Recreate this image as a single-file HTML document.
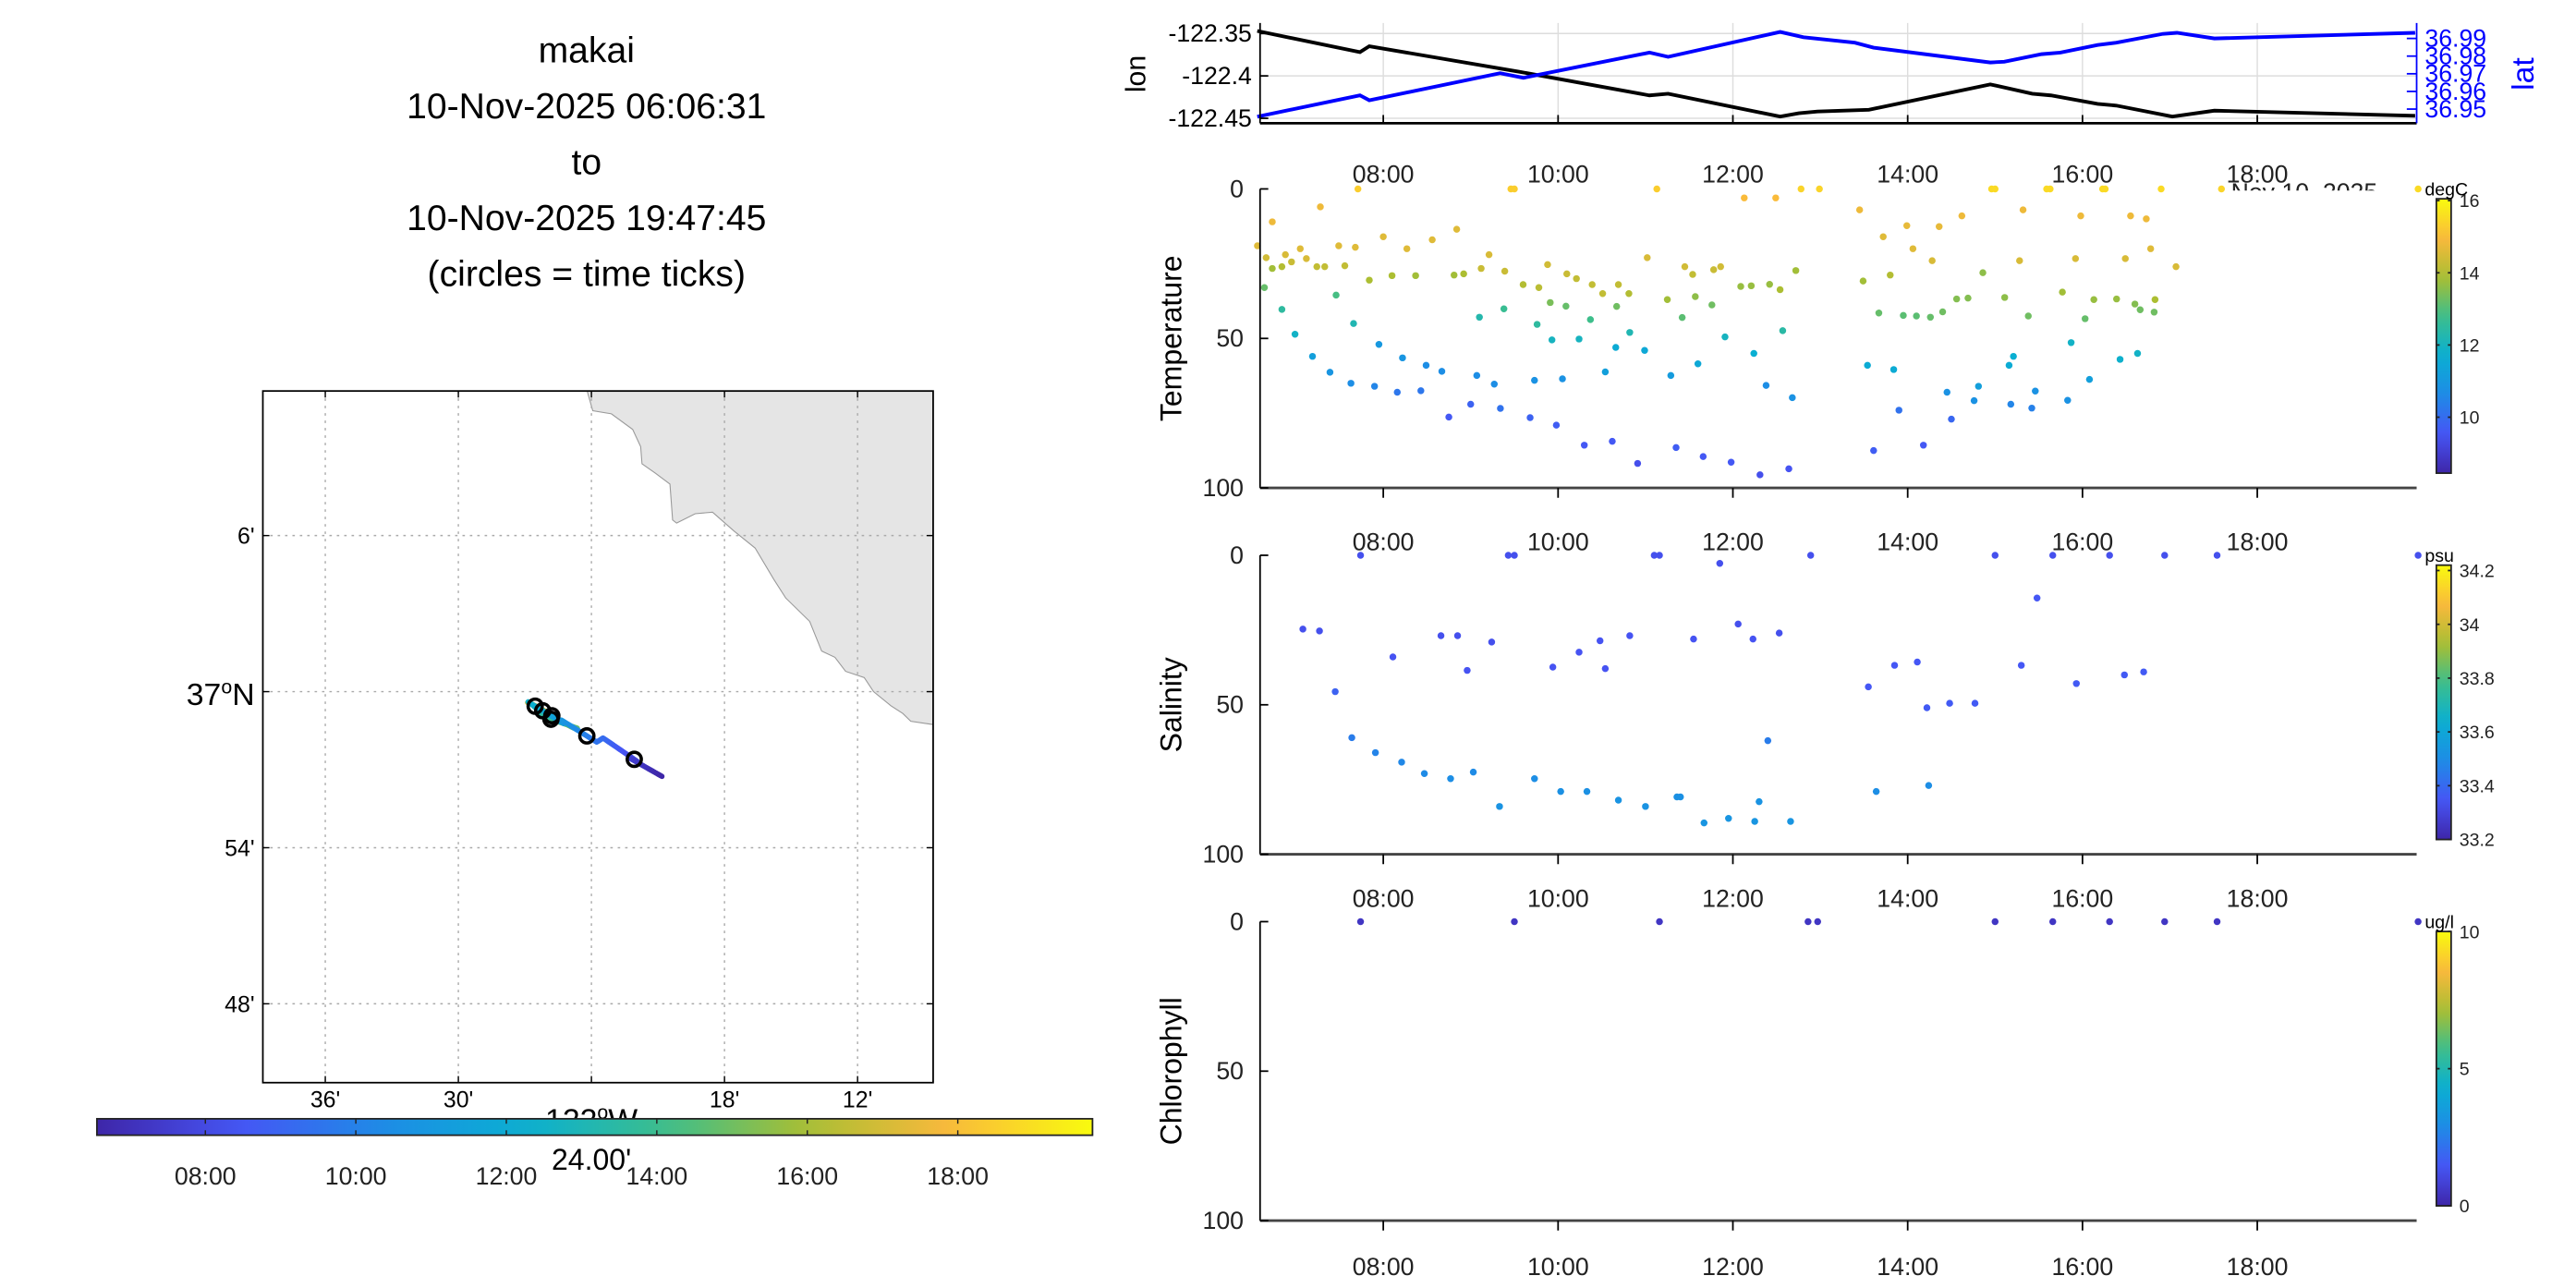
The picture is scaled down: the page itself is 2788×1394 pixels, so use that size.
<!DOCTYPE html>
<html><head><meta charset="utf-8"><style>
html,body{margin:0;padding:0;background:#fff;}
svg{display:block;font-family:"Liberation Sans",sans-serif;}
</style></head><body>
<svg id="fig" xmlns="http://www.w3.org/2000/svg" width="2788" height="1394" viewBox="0 0 1568 784">
<defs id="defs"></defs>
<rect x="0" y="0" width="1568" height="784" fill="#fff"/>
<g font-size="22" text-anchor="middle" fill="#000">
<text x="357" y="38">makai</text>
<text x="357" y="72">10-Nov-2025 06:06:31</text>
<text x="357" y="106">to</text>
<text x="357" y="140">10-Nov-2025 19:47:45</text>
<text x="357" y="174">(circles = time ticks)</text>
</g>
<g id="map"></g>
<g id="top"></g>
<g id="temp"></g>
<g id="sal"></g>
<g id="chl"></g>
</svg>
<script>
// ---- data ----
const lonTimes=[6.558,7.733,7.840,9.549,11.045,11.259,12.541,12.754,12.968,13.556,14.945,15.425,15.639,16.173,16.387,17.028,17.509,19.806];
const lonValues=[-122.347,-122.372,-122.365,-122.395,-122.423,-122.421,-122.448,-122.444,-122.442,-122.440,-122.410,-122.421,-122.423,-122.433,-122.435,-122.448,-122.441,-122.447];
const latTimes=[6.558,7.733,7.840,9.336,9.603,11.045,11.259,12.541,12.808,13.396,13.609,14.945,15.105,15.532,15.746,16.173,16.387,16.921,17.081,17.509,19.806];
const latValues=[36.9457,36.9578,36.9550,36.9703,36.9677,36.9820,36.9796,36.9937,36.9907,36.9876,36.9848,36.9764,36.9768,36.9811,36.9820,36.9863,36.9876,36.9926,36.9932,36.9900,36.9932];
const timeTicks=[8,10,12,14,16,18];
const timeTickLabels=["08:00","10:00","12:00","14:00","16:00","18:00"];
const lonTicks=[-122.35,-122.4,-122.45];
const lonTickLabels=["-122.35","-122.4","-122.45"];
const latTicks=[36.99,36.98,36.97,36.96,36.95];
const latTickLabels=["36.99","36.98","36.97","36.96","36.95"];
const depthTicks=[0,50,100];
const tempTimes=[7.71,9.46,9.50,11.13,12.78,12.99,14.96,15.0,15.59,15.63,16.23,16.26,16.90,17.59,19.84,12.13,12.49,7.28,6.73,13.45,15.32,14.62,15.98,16.55,16.73,13.99,14.36,8.84,8.0,13.72,8.56,6.56,7.49,7.68,7.05,8.27,14.06,16.78,9.21,6.88,6.66,7.12,11.02,15.28,15.92,16.49,14.28,6.95,9.88,6.84,6.73,7.24,7.33,7.56,9.12,11.45,11.86,11.78,17.07,9.39,12.72,10.10,11.54,13.80,8.92,8.81,8.37,8.10,10.21,7.84,13.49,14.86,10.39,10.69,9.60,9.78,12.09,12.21,12.42,12.54,6.64,10.51,10.81,15.77,7.46,11.25,11.57,14.56,14.69,15.11,16.13,16.39,16.83,9.91,10.09,10.67,11.76,16.60,6.84,9.38,16.66,16.82,13.67,13.95,14.10,14.26,14.40,15.38,16.03,9.10,10.37,11.42,7.66,9.76,12.57,10.82,6.99,11.91,9.93,10.24,15.87,7.95,10.66,10.99,12.24,15.21,16.63,7.19,8.22,16.43,11.60,13.54,15.16,8.49,13.84,7.39,8.67,10.54,9.07,11.29,16.08,9.73,10.05,7.63,9.27,12.38,7.90,14.81,8.16,8.43,14.45,15.46,12.68,14.76,15.83,9.00,15.18,15.42,9.34,13.90,8.75,9.68,14.50,9.98,10.62,14.18,10.30,11.35,13.61,11.66,11.98,10.91,12.64,12.31];
const tempDepths=[0,0,0,0,0,0,0,0,0,0,0,0,0,0,0,3,3,6,11,7,7,9,9,9,10,12.3,12.6,13.5,16,16,17,19,19,19.5,20,20,20,20,22,22,23,23.3,23,24,23.3,23.3,24,24.4,25.3,26,26.6,26,26,25.7,26.6,26,26,27,26,27.5,27.3,28.4,28.6,28.8,28.4,28.8,29,29,30,30.5,30.8,28,32,32,32,33,32.6,32.4,31.9,33.7,33,35,35,34.5,35.5,37,36,36.8,36.5,36.3,37,36.8,37,38,39.2,39.3,38.8,38.5,40.3,40.1,40.4,41.2,41.5,42.3,42.5,42.9,41.1,42.5,43.4,42.9,43.7,43,45,45.3,47.4,48,48.6,49.5,50.5,50.2,51.4,52,53,54,55,56,55,56,56.5,57,58.5,59,59,59,60.4,61.3,61,61.2,62.4,62.4,63.7,64,63.5,65,65.3,65.7,66,66,68,67.5,68,67.6,69.8,70.8,70.7,72,72,73.3,73.4,74,76.3,76.5,77,79,84.4,85.7,85.7,86.5,87.5,89.5,91.4,91.8,93.6,95.6];
const tempValues=[15.3,15.3,15.3,15.3,15.4,15.4,15.5,15.5,15.5,15.5,15.5,15.5,15.5,15.4,15.5,15.0,15.0,14.8,14.8,14.8,14.8,14.8,14.8,14.8,14.8,14.7,14.7,14.6,14.6,14.6,14.6,14.6,14.6,14.6,14.6,14.6,14.6,14.6,14.5,14.5,14.4,14.5,14.5,14.5,14.5,14.5,14.5,14.3,14.4,14.0,13.8,14.2,14.2,14.2,14.3,14.4,14.4,14.3,14.5,14.3,13.8,14.3,14.2,14.0,13.9,13.8,13.8,13.9,14.2,13.9,13.8,13.6,14.2,14.2,14.0,14.1,13.7,13.7,13.7,13.9,13.2,14.2,14.0,13.8,12.9,13.8,13.6,13.5,13.5,13.6,13.7,13.7,13.9,13.4,13.2,13.3,13.3,13.5,12.5,12.7,13.3,13.3,13.2,13.1,13.1,13.2,13.3,13.3,13.2,12.3,12.8,13.1,12.2,12.5,12.4,12.2,11.9,12.0,12.0,12.0,11.9,11.0,11.6,11.5,11.7,11.7,11.9,11.2,10.9,11.8,11.5,11.6,11.6,10.7,11.6,10.9,10.7,11.2,10.7,11.1,11.2,10.8,10.8,10.7,10.7,10.7,10.5,11.2,10.2,10.2,10.8,10.8,10.8,10.8,10.8,9.8,10.5,10.4,10.1,10.1,9.6,9.8,9.9,9.7,9.6,9.6,9.6,9.7,9.7,9.6,9.6,9.4,9.5,9.4];
const salTimes=[7.74,9.43,9.50,11.10,11.16,12.89,15.0,15.66,16.31,16.94,17.54,19.84,11.85,15.48,7.08,7.27,12.06,12.53,8.85,8.66,9.24,10.48,8.11,8.96,9.94,10.24,10.54,10.82,11.55,12.23,13.55,13.85,14.11,14.22,14.48,14.77,15.30,15.93,16.48,16.70,7.45,7.64,7.91,8.21,8.47,8.77,9.03,9.33,9.73,10.03,10.33,10.69,11.0,11.36,11.40,11.67,11.95,12.25,12.30,12.40,12.66,13.64,14.24];
const salDepths=[0,0,0,0,0,0,0,0,0,0,0,0,2.7,14.3,24.7,25.3,23,26,26.9,26.9,29,28.6,34,38.5,37.4,32.4,37.9,26.9,28,28,44,36.8,35.7,51,49.5,49.5,36.8,42.9,40,39,45.6,61,66,69.2,73,74.7,72.5,84,74.7,79,79,81.9,84,80.8,80.8,89.5,88,89,82.4,62,89,79,77];
const salValues=[33.33,33.33,33.33,33.33,33.33,33.33,33.33,33.33,33.33,33.33,33.33,33.33,33.33,33.35,33.33,33.33,33.33,33.33,33.33,33.33,33.33,33.34,33.34,33.34,33.34,33.34,33.34,33.34,33.34,33.34,33.35,33.35,33.35,33.36,33.36,33.36,33.35,33.36,33.36,33.36,33.38,33.45,33.47,33.48,33.49,33.5,33.49,33.52,33.5,33.51,33.51,33.52,33.52,33.51,33.51,33.53,33.53,33.53,33.52,33.45,33.53,33.5,33.5];
const chlTimes=[7.74,9.50,11.16,12.86,12.97,15.0,15.66,16.31,16.94,17.54,19.84];
const chlDepths=[0,0,0,0,0,0,0,0,0,0,0];
const chlValues=[0.5,0.5,0.5,0.5,0.5,0.5,0.5,0.5,0.5,0.5,0.5];
const mapLonTicks=[-122.6,-122.5,-122.4,-122.3,-122.2];
const mapLonLabels=["36'","30'","24.00'","18'","12'"];
const mapLatTicks=[37.1,37.0,36.9,36.8];
const mapLatLabels=["6'","37","54'","48'"];
const coastLon=[-122.403,-122.399,-122.385,-122.369,-122.363,-122.362,-122.352,-122.341,-122.339,-122.336,-122.322,-122.309,-122.293,-122.277,-122.263,-122.254,-122.236,-122.227,-122.217,-122.209,-122.195,-122.188,-122.175,-122.166,-122.160];
const coastLat=[37.192,37.180,37.178,37.168,37.157,37.146,37.140,37.133,37.110,37.108,37.114,37.115,37.103,37.092,37.072,37.060,37.045,37.026,37.022,37.013,37.009,37.0,36.991,36.986,36.981];

// ---- helpers ----
const NS="http://www.w3.org/2000/svg";
function mk(parent,tag,attrs,text){const e=document.createElementNS(NS,tag);for(const k in attrs)e.setAttribute(k,attrs[k]);if(text!==undefined)e.textContent=text;parent.appendChild(e);return e;}
const cmapStops=[[0,62,38,168],[0.143,70,85,245],[0.286,30,140,230],[0.429,10,175,210],[0.571,60,190,140],[0.714,170,190,50],[0.857,250,185,60],[1,249,251,14]];
function parula(t){t=Math.max(0,Math.min(1,t));for(let i=1;i<cmapStops.length;i++){if(t<=cmapStops[i][0]){const a=cmapStops[i-1],b=cmapStops[i];const f=(t-a[0])/(b[0]-a[0]);return `rgb(${Math.round(a[1]+f*(b[1]-a[1]))},${Math.round(a[2]+f*(b[2]-a[2]))},${Math.round(a[3]+f*(b[3]-a[3]))})`;}}return 'rgb(249,251,14)';}
const defsEl=document.getElementById('defs');
function gradDef(id,vertical){const g=mk(defsEl,'linearGradient',vertical?{id:id,x1:0,y1:1,x2:0,y2:0}:{id:id,x1:0,y1:0,x2:1,y2:0});for(let i=0;i<=20;i++)mk(g,'stop',{offset:i/20,'stop-color':parula(i/20)});}
gradDef('gh',false);gradDef('gv',true);

const XL=767,XR=1471;
const xT=h=>842+(h-8)*53.2;

// ---- map ----
const mapG=document.getElementById('map');
const mx=lon=>360+(lon+122.4)*810;
const my=lat=>421-(lat-37)*950;
const MX0=160,MX1=568,MY0=238,MY1=659;
mk(mapG,'rect',{x:MX0,y:MY0,width:MX1-MX0,height:MY1-MY0,fill:'#fff'});
let pts=[[MX1,MY0],[mx(coastLon[0]),MY0]];
for(let i=0;i<coastLon.length;i++)pts.push([mx(coastLon[i]),my(coastLat[i])]);
pts.push([MX1,my(coastLat[coastLat.length-1])+2]);
const land=mk(mapG,'polygon',{points:pts.map(p=>p.join(',')).join(' '),fill:'#e5e5e5',stroke:'#999','stroke-width':0.6});


for(let i=0;i<mapLonTicks.length;i++){
 const x=mx(mapLonTicks[i]);
 const gl=mk(mapG,'line',{x1:x,y1:MY0,x2:x,y2:MY1,stroke:'#aaa','stroke-width':0.8,'stroke-dasharray':'1.5,3'});
 
 
 mk(mapG,'line',{x1:x,y1:MY1,x2:x,y2:MY1-4,stroke:'#000','stroke-width':0.8});
 mk(mapG,'line',{x1:x,y1:MY0,x2:x,y2:MY0+4,stroke:'#000','stroke-width':0.8});
 if(i!==2){const t=mk(mapG,'text',{x:x,y:674,'font-size':14,'text-anchor':'middle'},mapLonLabels[i]);
 
 }
}
for(let i=0;i<mapLatTicks.length;i++){
 const y=my(mapLatTicks[i]);
 const gl=mk(mapG,'line',{x1:MX0,y1:y,x2:MX1,y2:y,stroke:'#aaa','stroke-width':0.8,'stroke-dasharray':'1.5,3'});
 
 
 mk(mapG,'line',{x1:MX0,y1:y,x2:MX0+4,y2:y,stroke:'#000','stroke-width':0.8});
 mk(mapG,'line',{x1:MX1,y1:y,x2:MX1-4,y2:y,stroke:'#000','stroke-width':0.8});
 let t;
 if(i===1){t=mk(mapG,'text',{x:155,y:y+8,'font-size':19,'text-anchor':'end'});
  mk(t,'tspan',{},mapLatLabels[i]);mk(t,'tspan',{dy:-7,'font-size':12},'o');mk(t,'tspan',{dy:7},'N');}
 else t=mk(mapG,'text',{x:155,y:y+5,'font-size':14,'text-anchor':'end'},mapLatLabels[i]);
 
 
}
mk(mapG,'rect',{x:MX0,y:MY0,width:MX1-MX0,height:MY1-MY0,fill:'none',stroke:'#000','stroke-width':1});
function interp(ts,vs,t){if(t<=ts[0])return vs[0];for(let i=1;i<ts.length;i++)if(t<=ts[i]){const f=(t-ts[i-1])/(ts[i]-ts[i-1]);return vs[i-1]+f*(vs[i]-vs[i-1]);}return vs[vs.length-1];}
const tk=mk(mapG,'g',{});


const T0=6.558,T1=19.806,N=200;
for(let i=N-1;i>=0;i--){const ta=T0+(T1-T0)*i/N,tb=T0+(T1-T0)*(i+1)/N;
 mk(tk,'line',{x1:mx(interp(lonTimes,lonValues,ta)),y1:my(interp(latTimes,latValues,ta)),x2:mx(interp(lonTimes,lonValues,tb)),y2:my(interp(latTimes,latValues,tb)),stroke:parula((ta-6.56)/(19.79-6.56)),'stroke-width':3.2,'stroke-linecap':'round'});}
for(const t of timeTicks){const c=mk(tk,'circle',{cx:mx(interp(lonTimes,lonValues,t)),cy:my(interp(latTimes,latValues,t)),r:4.3,fill:'none',stroke:'#000','stroke-width':2});
 
 }
const lw=mk(mapG,'text',{x:360,y:688,'font-size':19,'text-anchor':'middle'});
mk(lw,'tspan',{},'122');mk(lw,'tspan',{dy:-7,'font-size':12},'o');mk(lw,'tspan',{dy:7},'W');


const cbx=h=>125+(h-8)*45.8;
const cb=mk(mapG,'rect',{x:59,y:681,width:606,height:10,fill:'url(#gh)',stroke:'#222','stroke-width':1});


for(let i=0;i<timeTicks.length;i++){const x=cbx(timeTicks[i]);
 mk(mapG,'line',{x1:x,y1:681,x2:x,y2:684,stroke:'#222','stroke-width':0.8});mk(mapG,'line',{x1:x,y1:691,x2:x,y2:688,stroke:'#222','stroke-width':0.8});
 const t=mk(mapG,'text',{x:x,y:721,'font-size':15,'text-anchor':'middle',fill:'#222'},timeTickLabels[i]);
 
 }
const l24=mk(mapG,'text',{x:360,y:712,'font-size':18,'text-anchor':'middle'},mapLonLabels[2]);



// ---- top lon/lat panel ----
const topG=document.getElementById('top');
const yLon=v=>20.4+(-122.35-v)/0.05*25.8;
const yLat=v=>23.4+(36.99-v)/0.01*10.75;
const TY0=14,TY1=75;
for(const h of timeTicks)mk(topG,'line',{x1:xT(h),y1:TY0,x2:xT(h),y2:TY1,stroke:'#ddd','stroke-width':0.8});
for(const v of lonTicks)mk(topG,'line',{x1:XL,y1:yLon(v),x2:XR,y2:yLon(v),stroke:'#ddd','stroke-width':0.8});
const lonPath=mk(topG,'polyline',{points:lonTimes.map((t,i)=>xT(t)+','+yLon(lonValues[i])).join(' '),fill:'none',stroke:'#000','stroke-width':2.2});


const latPath=mk(topG,'polyline',{points:latTimes.map((t,i)=>xT(t)+','+yLat(latValues[i])).join(' '),fill:'none',stroke:'#0000ff','stroke-width':2.2});


mk(topG,'line',{x1:XL,y1:TY0,x2:XL,y2:TY1,stroke:'#000','stroke-width':1});
mk(topG,'line',{x1:XL,y1:TY1,x2:XR,y2:TY1,stroke:'#000','stroke-width':1.5});
mk(topG,'line',{x1:XR,y1:TY0,x2:XR,y2:TY1,stroke:'#0000ff','stroke-width':1});
for(let i=0;i<lonTicks.length;i++){const y=yLon(lonTicks[i]);mk(topG,'line',{x1:XL,y1:y,x2:XL+5,y2:y,stroke:'#000'});
 const t=mk(topG,'text',{x:762,y:y+5,'font-size':15,'text-anchor':'end'},lonTickLabels[i]);
 
 }
for(let i=0;i<latTicks.length;i++){const y=yLat(latTicks[i]);mk(topG,'line',{x1:XR,y1:y,x2:XR-6,y2:y,stroke:'#0000ff'});
 const t=mk(topG,'text',{x:1476,y:y+5,'font-size':15,fill:'#0000ff'},latTickLabels[i]);
 
 }
for(let i=0;i<timeTicks.length;i++){const x=xT(timeTicks[i]);mk(topG,'line',{x1:x,y1:TY1,x2:x,y2:TY1-5,stroke:'#000'});
 const t=mk(topG,'text',{x:x,y:111,'font-size':15,'text-anchor':'middle',fill:'#222'},timeTickLabels[i]);
 
 }
const lonL=mk(topG,'text',{x:697,y:45,'font-size':17,'text-anchor':'middle',transform:'rotate(-90 697 45)'},'lon');


const latL=mk(topG,'text',{x:1542,y:45,'font-size':19,'text-anchor':'middle',fill:'#0000ff',transform:'rotate(-90 1542 45)'},'lat');



// ---- profile panels ----
const cp=mk(defsEl,'clipPath',{id:'novclip'});mk(cp,'rect',{x:1350,y:100,width:120,height:16});
function panel(id,y0,title,times,depths,vals,vmin,vmax,unit,cbTicks,cbLabels,labelY,extraNov){
 const g=document.getElementById(id);
 const yD=d=>y0+d*1.82;
 const ymax=y0+182;
 for(let i=0;i<times.length;i++){const c=mk(g,'circle',{cx:xT(times[i]),cy:yD(depths[i]),r:2.1,fill:parula((vals[i]-vmin)/(vmax-vmin))});
  
  }
 mk(g,'line',{x1:XL,y1:y0,x2:XL,y2:ymax,stroke:'#000','stroke-width':1});
 mk(g,'line',{x1:XL,y1:ymax,x2:XR,y2:ymax,stroke:'#444','stroke-width':1.6});
 for(const d of depthTicks){const y=yD(d);mk(g,'line',{x1:XL,y1:y,x2:XL+5,y2:y,stroke:'#000'});
  const t=mk(g,'text',{x:757,y:y+5,'font-size':15,'text-anchor':'end',fill:'#222'},String(d));
  
  }
 for(let i=0;i<timeTicks.length;i++){const x=xT(timeTicks[i]);mk(g,'line',{x1:x,y1:ymax,x2:x,y2:ymax+6,stroke:'#000'});
  const t=mk(g,'text',{x:x,y:labelY,'font-size':15,'text-anchor':'middle',fill:'#222'},timeTickLabels[i]);
  
  }
 const cy=y0+91;
 const tt=mk(g,'text',{x:719,y:cy,'font-size':18,'text-anchor':'middle',transform:`rotate(-90 719 ${cy})`},title);
 
 
 const cbT=y0+6,cbB=y0+173;
 const cbY=v=>cbB-(v-vmin)/(vmax-vmin)*(cbB-cbT);
 const r=mk(g,'rect',{x:1483,y:cbT,width:9,height:cbB-cbT,fill:'url(#gv)',stroke:'#222','stroke-width':1});
 
 
 for(let i=0;i<cbTicks.length;i++){const y=cbY(cbTicks[i]);mk(g,'line',{x1:1483,y1:y,x2:1485,y2:y,stroke:'#222'});mk(g,'line',{x1:1492,y1:y,x2:1490,y2:y,stroke:'#222'});
  const t=mk(g,'text',{x:1497,y:y+4,'font-size':11,fill:'#222'},cbLabels[i]);
  
  }
 const u=mk(g,'text',{x:1476,y:y0+4,'font-size':11,fill:'#000'},unit);
 
 
 if(extraNov){const n=mk(g,'text',{x:1358,y:y0+7,'font-size':15,fill:'#222','clip-path':'url(#novclip)'},'Nov 10, 2025');
  
  }
}
const tempCbTicks=[10,12,14,16],tempCbLabels=["10","12","14","16"];
const salCbTicks=[33.2,33.4,33.6,33.8,34,34.2],salCbLabels=["33.2","33.4","33.6","33.8","34","34.2"];
const chlCbTicks=[0,5,10],chlCbLabels=["0","5","10"];
panel('temp',115,'Temperature',tempTimes,tempDepths,tempValues,8.45,16.05,'degC',tempCbTicks,tempCbLabels,335,true);
panel('sal',338,'Salinity',salTimes,salDepths,salValues,33.2,34.22,'psu',salCbTicks,salCbLabels,552,false);
panel('chl',561,'Chlorophyll',chlTimes,chlDepths,chlValues,0,10,'ug/l',chlCbTicks,chlCbLabels,776,false);
</script>
</body></html>
